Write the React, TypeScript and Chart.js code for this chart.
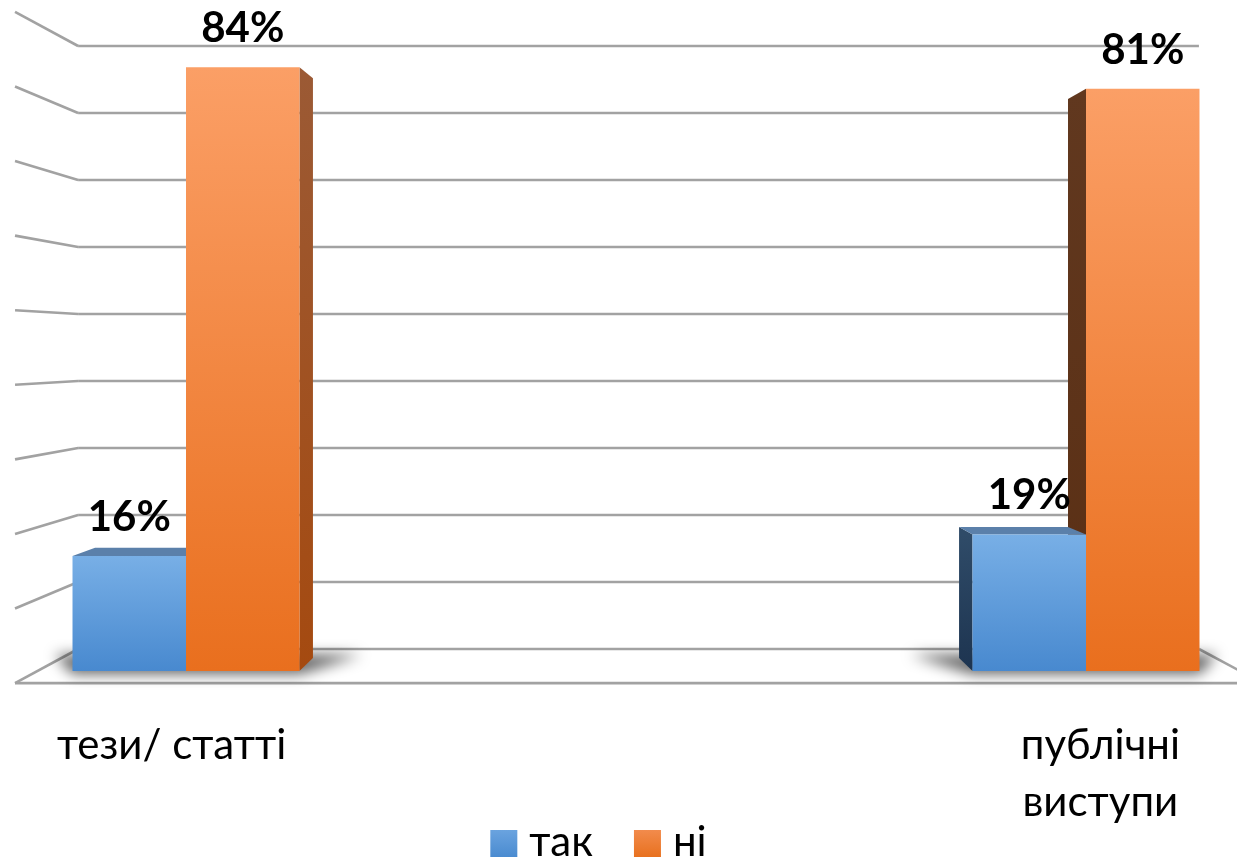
import React, { useEffect, useRef } from 'react';
import { Chart, registerables } from 'chart.js';

Chart.register(...registerables);

// ---------- data ----------
const CATEGORIES = ['тези/ статті', 'публічні виступи'];
const CATEGORY_LINES = [['тези/ статті'], ['публічні', 'виступи']];
const SERIES_NAMES = ['так', 'ні'];
const YES_VALUES = [16, 19];
const NO_VALUES = [84, 81];
const GRID_VALUES = [0, 10, 20, 30, 40, 50, 60, 70, 80, 90];
const Y_MAX = 90;

// ---------- style ----------
const FONT = 'Lato, "Open Sans", sans-serif';
const GRID_COLOR = '#a2a2a2';
const FRONT_GRADIENTS = [
  ['#78afe6', '#4889cf'],
  ['#fb9f66', '#e96f1e'],
];
const TOP_COLORS = ['#5b80aa', '#a15d35'];
const LEFT_SIDE = [['#2f4b68', '#1d3450'], ['#61381f', '#5a2f14']];
const RIGHT_SIDE = [['#2f4b68', '#1d3450'], ['#9b5a35', '#a54a10']];
const LEGEND_COLORS = [['#6aa3df', '#4a8bd0'], ['#f28b4c', '#e8711f']];

// perspective (relative to the bar front plane)
const PERSP = {
  vpCat: 0.5,
  vpVal: 45,
  wall: 0.932,
  floorFront: 1.0374,
  barBack: 0.96,
  label: 1.032,
  wallLeft: -0.1651,
  wallRight: 1.1711,
};

function geom(chart: any) {
  const xs = chart.scales.x;
  const ys = chart.scales.y;
  const vx = xs.getPixelForValue(PERSP.vpCat);
  const vy = ys.getPixelForValue(PERSP.vpVal);
  const P = (x: number, y: number, s: number): [number, number] => [vx + (x - vx) * s, vy + (y - vy) * s];
  return { xs, ys, vx, vy, P };
}

function poly(ctx: CanvasRenderingContext2D, pts: [number, number][]) {
  ctx.beginPath();
  ctx.moveTo(pts[0][0], pts[0][1]);
  for (let i = 1; i < pts.length; i++) ctx.lineTo(pts[i][0], pts[i][1]);
  ctx.closePath();
}

function line(ctx: CanvasRenderingContext2D, a: [number, number], b: [number, number]) {
  ctx.beginPath();
  ctx.moveTo(a[0], a[1]);
  ctx.lineTo(b[0], b[1]);
  ctx.stroke();
}

const scenePlugin = {
  id: 'scene3d',
  beforeDatasetsDraw(chart: any) {
    const { ctx } = chart;
    const { xs, ys, vy, vx, P } = geom(chart);
    const xl = xs.getPixelForValue(PERSP.wallLeft);
    const xr = xs.getPixelForValue(PERSP.wallRight);
    const y0 = ys.getPixelForValue(0);

    ctx.save();
    ctx.strokeStyle = GRID_COLOR;
    ctx.lineWidth = 2.6;
    // back wall gridlines + left wall lines
    GRID_VALUES.forEach((v) => {
      const yf = ys.getPixelForValue(v);
      const a = P(xl, yf, PERSP.wall);
      const b = P(xr, yf, PERSP.wall);
      line(ctx, a, b);
      line(ctx, a, P(xl, yf, PERSP.floorFront));
    });
    // floor
    line(ctx, P(xl, y0, PERSP.floorFront), P(xr, y0, PERSP.floorFront));
    line(ctx, P(xr, y0, PERSP.wall), P(xr, y0, PERSP.floorFront));
    ctx.restore();

    // shadows under each group
    const metas = chart.getSortedVisibleDatasetMetas();
    CATEGORIES.forEach((_, i) => {
      let L = Infinity, R = -Infinity, B = 0;
      metas.forEach((m: any) => {
        const el = m.data[i];
        if (!el) return;
        const p = el.getProps(['x', 'width', 'base'], true);
        L = Math.min(L, p.x - p.width / 2);
        R = Math.max(R, p.x + p.width / 2);
        B = p.base;
      });
      ctx.save();
      ctx.filter = 'blur(7px)';
      ctx.fillStyle = 'rgba(0,0,0,0.62)';
      poly(ctx, [[L, B + 3], [R, B + 3], P(R + 48, B, 0.95), P(L - 48, B, 0.95)]);
      ctx.fill();
      ctx.restore();
    });

    // side / top faces (later datasets first so earlier ones overlap them)
    for (let d = metas.length - 1; d >= 0; d--) {
      const m = metas[d];
      const di = m.index;
      m.data.forEach((el: any) => {
        const p = el.getProps(['x', 'y', 'width', 'base'], true);
        const L = p.x - p.width / 2, R = p.x + p.width / 2, T = p.y, Bm = p.base;
        const s = PERSP.barBack;
        if (R < vx) {
          const g = ctx.createLinearGradient(0, T, 0, Bm);
          g.addColorStop(0, RIGHT_SIDE[di][0]);
          g.addColorStop(1, RIGHT_SIDE[di][1]);
          ctx.fillStyle = g;
          poly(ctx, [[R, T], [R, Bm], P(R, Bm, s), P(R, T, s)]);
          ctx.fill();
        }
        if (L > vx) {
          const g = ctx.createLinearGradient(0, T, 0, Bm);
          g.addColorStop(0, LEFT_SIDE[di][0]);
          g.addColorStop(1, LEFT_SIDE[di][1]);
          ctx.fillStyle = g;
          poly(ctx, [[L, T], [L, Bm], P(L, Bm, s), P(L, T, s)]);
          ctx.fill();
        }
        if (T > vy) {
          ctx.fillStyle = TOP_COLORS[di];
          poly(ctx, [[L, T], [R, T], P(R, T, s), P(L, T, s)]);
          ctx.fill();
        }
      });
    }
  },
  afterDatasetsDraw(chart: any) {
    const { ctx } = chart;
    const { xs, ys, P } = geom(chart);
    const y0 = ys.getPixelForValue(0);
    ctx.save();
    // value labels
    ctx.fillStyle = '#000';
    ctx.textAlign = 'center';
    ctx.textBaseline = 'alphabetic';
    ctx.font = `bold 42px ${FONT}`;
    chart.getSortedVisibleDatasetMetas().forEach((m: any) => {
      const ds = chart.data.datasets[m.index];
      m.data.forEach((el: any, i: number) => {
        const p = el.getProps(['x', 'y'], true);
        ctx.fillText(`${ds.data[i]}%`, p.x, p.y - 25);
      });
    });
    // category labels
    ctx.font = `42px ${FONT}`;
    CATEGORY_LINES.forEach((lines, i) => {
      const [lx] = P(xs.getPixelForValue(i), y0, PERSP.label);
      lines.forEach((t, k) => ctx.fillText(t, lx, 759 + k * 57));
    });
    // legend
    ctx.font = `42px ${FONT}`;
    ctx.textAlign = 'left';
    const box = 27, gap = 12, itemGap = 41;
    const widths = SERIES_NAMES.map((n) => ctx.measureText(n).width);
    const total = widths.reduce((a, w) => a + box + gap + w, 0) + itemGap * (SERIES_NAMES.length - 1);
    let x = 598.5 - total / 2;
    SERIES_NAMES.forEach((n, i) => {
      const g = ctx.createLinearGradient(0, 830, 0, 857);
      g.addColorStop(0, LEGEND_COLORS[i][0]);
      g.addColorStop(1, LEGEND_COLORS[i][1]);
      ctx.fillStyle = g;
      ctx.fillRect(x, 830, box, box);
      ctx.fillStyle = '#000';
      ctx.fillText(n, x + box + gap, 856);
      x += box + gap + widths[i] + itemGap;
    });
    ctx.restore();
  },
};

function frontFill(di: number) {
  return (c: any) => {
    const chart = c.chart;
    if (!chart.chartArea || c.type !== 'data') return FRONT_GRADIENTS[di][1];
    const ys = chart.scales.y;
    const top = ys.getPixelForValue(c.raw);
    const bottom = ys.getPixelForValue(0);
    const g = chart.ctx.createLinearGradient(0, top, 0, bottom);
    g.addColorStop(0, FRONT_GRADIENTS[di][0]);
    g.addColorStop(1, FRONT_GRADIENTS[di][1]);
    return g;
  };
}

export default function App() {
  const ref = useRef<HTMLCanvasElement>(null);
  useEffect(() => {
    if (!ref.current) return;
    const chart = new Chart(ref.current, {
      type: 'bar',
      data: {
        labels: CATEGORIES,
        datasets: [
          { label: SERIES_NAMES[0], data: YES_VALUES, backgroundColor: frontFill(0), clip: false as any },
          { label: SERIES_NAMES[1], data: NO_VALUES, backgroundColor: frontFill(1), clip: false as any },
        ],
      },
      options: {
        responsive: false,
        animation: false,
        devicePixelRatio: 1,
        categoryPercentage: 0.2522,
        barPercentage: 1,
        layout: { padding: { left: 186, right: 151, top: 24, bottom: 193 } },
        scales: {
          x: { type: 'category', offset: false, display: false, grid: { display: false } },
          y: { min: 0, max: Y_MAX, display: false, grid: { display: false } },
        },
        plugins: {
          legend: { display: false },
          tooltip: { enabled: false },
        },
      } as any,
      plugins: [scenePlugin],
    });
    return () => chart.destroy();
  }, []);
  return (
    <div style={{ position: 'fixed', left: 0, top: 0, width: 1237, height: 864, background: '#fff' }}>
      <canvas ref={ref} width={1237} height={864} />
    </div>
  );
}
